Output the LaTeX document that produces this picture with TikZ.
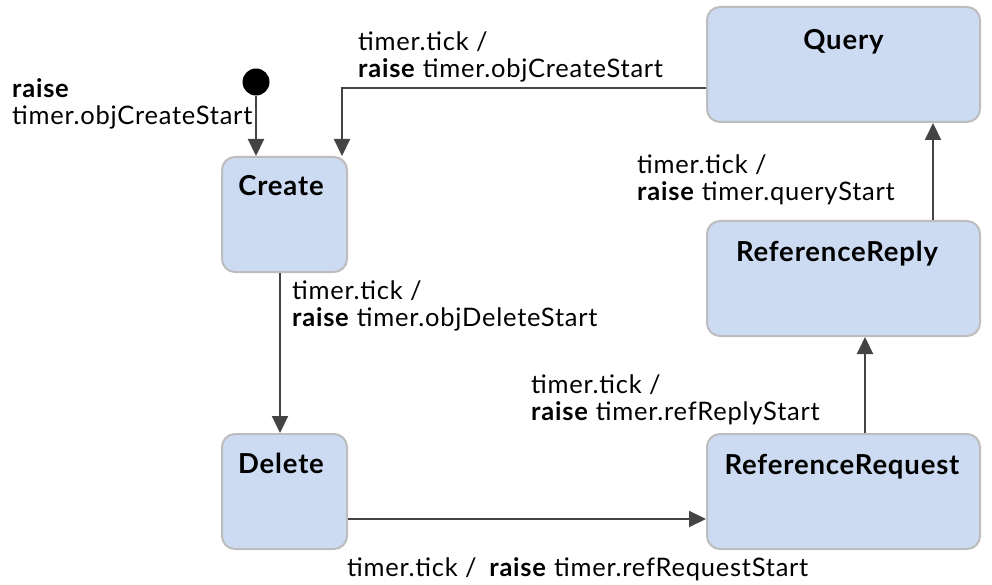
\documentclass[tikz,border=0pt]{standalone}
\usepackage{fontspec}
\setmainfont{Lato}[LetterSpace=3]
\usetikzlibrary{arrows.meta}
\definecolor{statefill}{HTML}{CCDBF2}
\definecolor{stateline}{HTML}{BDBDBD}
\definecolor{wire}{HTML}{444444}
\tikzset{
  statebox/.style={draw=stateline, line width=2pt, fill=statefill, rounded corners=13pt,
    inner sep=0pt},
  statetitle/.style={font=\fontsize{27.5}{30}\selectfont\bfseries, anchor=base, inner sep=0pt},
  trans/.style={font=\fontsize{25.5}{27}\selectfont, align=left, anchor=base west, inner sep=0pt},
  arr/.style={draw=wire, line width=2pt, -{Triangle[length=17pt,width=16pt]}},
}
\begin{document}
\begin{tikzpicture}[x=1pt,y=-1pt]
\useasboundingbox (0,0) rectangle (992,585);

% states
\node[statebox, minimum width=273pt, minimum height=115pt] (query)  at (843.5,64.5)  {};
\node[statebox, minimum width=125pt, minimum height=115pt] (create) at (284.5,214.5) {};
\node[statebox, minimum width=273pt, minimum height=115pt] (refrep) at (843.5,278.5) {};
\node[statebox, minimum width=125pt, minimum height=115pt] (delete) at (284.5,491.5) {};
\node[statebox, minimum width=273pt, minimum height=115pt] (refreq) at (843.5,491.5) {};

\node[statetitle] (queryt)  at (843.5,50)  {Query};
\node[statetitle] (createt) at (281,196)   {Create};
\node[statetitle] (refrept) at (837,261)   {ReferenceReply};
\node[statetitle] (deletet) at (281,473)   {Delete};
\node[statetitle] (refreqt) at (842,474)   {ReferenceRequest};

% initial pseudo-state
\node[circle, fill=black, minimum size=27pt, inner sep=0pt] (init) at (256,82) {};

% transitions
\draw[arr] (init.south) -- (init.south |- create.north);
\draw[arr] ([yshift=-23.5pt]query.west) -| ([xshift=57.5pt]create.north);
\draw[arr] ([xshift=-4.5pt]create.south) -- ([xshift=-4.5pt]delete.north);
\draw[arr] ([yshift=-27.5pt]delete.east) -- ([yshift=-27.5pt]refreq.west);
\draw[arr] ([xshift=21.5pt]refreq.north) -- ([xshift=21.5pt]refrep.south);
\draw[arr] ([xshift=89.5pt]refrep.north) -- ([xshift=89.5pt]query.south);

% transition labels (anchored at the baseline of the last line)
\node[trans] (linit)   at (12,125)  {\textbf{raise}\\timer.objCreateStart};
\node[trans] (lquery)  at (358,78)  {timer.tick /\\\textbf{raise} timer.objCreateStart};
\node[trans] (lcreate) at (292,326) {timer.tick /\\\textbf{raise} timer.objDeleteStart};
\node[trans] (lrefrep) at (637,201) {timer.tick /\\\textbf{raise} timer.queryStart};
\node[trans] (lrefreq) at (531,420) {timer.tick /\\\textbf{raise} timer.refReplyStart};
\node[trans] (ldelete) at (347,576) {timer.tick /\enspace\textbf{raise} timer.refRequestStart};
\end{tikzpicture}
\end{document}
